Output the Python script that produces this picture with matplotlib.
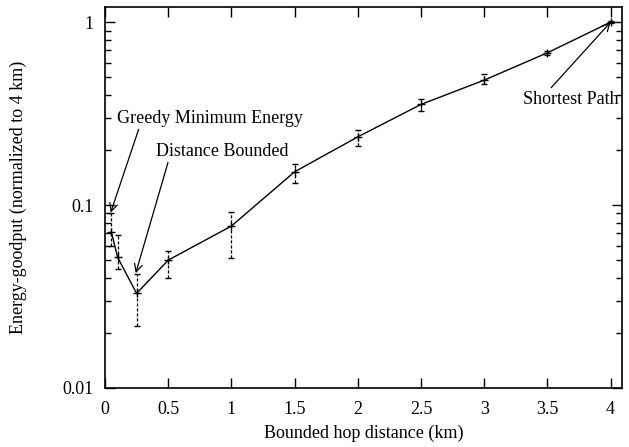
import matplotlib
matplotlib.use("Agg")
import matplotlib.pyplot as plt
from matplotlib.ticker import FixedLocator, LogLocator, NullFormatter, FixedFormatter
import numpy as np

plt.rcParams['font.family'] = ['Liberation Serif', 'DejaVu Serif']

x = [0.05, 0.1, 0.25, 0.5, 1.0, 1.5, 2.0, 2.5, 3.0, 3.5, 4.0]
y = [0.0715, 0.0518, 0.0329, 0.050, 0.0768, 0.152, 0.236, 0.355, 0.482, 0.68, 1.0]
y_lo = [0.060, 0.0445, 0.0219, 0.0398, 0.0515, 0.1314, 0.21, 0.327, 0.459, 0.665, 0.99]
y_hi = [0.091, 0.0686, 0.0418, 0.0563, 0.0919, 0.168, 0.257, 0.378, 0.518, 0.695, 1.01]

xticks = [0, 0.5, 1, 1.5, 2, 2.5, 3, 3.5, 4]
xticklabels = ["0", "0.5", "1", "1.5", "2", "2.5", "3", "3.5", "4"]
yticks = [0.01, 0.1, 1]
yticklabels = ["0.01", "0.1", "1"]

fig = plt.figure(figsize=(6.29, 4.47), dpi=100)
ax = fig.add_axes([105/629, 1 - 388/447, (622-105)/629, (388-7)/447])

yerr = [np.array(y) - np.array(y_lo), np.array(y_hi) - np.array(y)]
line, caps, bars = ax.errorbar(x, y, yerr=yerr, color='black', lw=1.0,
                               marker='+', ms=6, mew=1.0, capsize=2.5,
                               elinewidth=0.9, capthick=0.9)
bars[0].set_linestyle((0, (2.5, 1.5)))

ax.set_yscale('log')
ax.set_xlim(0, 4.09)
ax.set_ylim(0.01, 1.21)

ax.xaxis.set_major_locator(FixedLocator(xticks))
ax.xaxis.set_major_formatter(FixedFormatter(xticklabels))
ax.yaxis.set_major_locator(FixedLocator(yticks))
ax.yaxis.set_major_formatter(FixedFormatter(yticklabels))
ax.yaxis.set_minor_locator(LogLocator(base=10, subs=np.arange(2, 10)))
ax.yaxis.set_minor_formatter(NullFormatter())

ax.tick_params(which='both', direction='in', top=True, right=True, labelsize=13, width=1)
ax.tick_params(which='major', length=7, pad=8)
ax.tick_params(axis='x', which='major', pad=9)
ax.tick_params(which='minor', length=4)
for s in ax.spines.values():
    s.set_linewidth(1.2)

ax.set_xlabel("Bounded hop distance (km)", fontsize=13, labelpad=5)
ax.set_ylabel("Energy-goodput (normalized to 4 km)", fontsize=13, labelpad=26)

aprops = dict(arrowstyle='->', color='black', lw=0.9, shrinkA=0, shrinkB=0, mutation_scale=14)
ax.annotate("Greedy Minimum Energy", xy=(0.045, 0.091), xytext=(0.097, 0.299),
            fontsize=13, va='center', ha='left', arrowprops=dict(aprops, relpos=(0.12, 0.0)))
ax.annotate("Distance Bounded", xy=(0.243, 0.0424), xytext=(0.40, 0.197),
            fontsize=13, va='center', ha='left', arrowprops=dict(aprops, relpos=(0.1, 0.0)))
ax.annotate("Shortest Path", xy=(4.0, 1.0), xytext=(3.305, 0.38),
            fontsize=13, va='center', ha='left', arrowprops=dict(aprops, relpos=(0.27, 1.0)))

fig.savefig("out.png", dpi=100)
